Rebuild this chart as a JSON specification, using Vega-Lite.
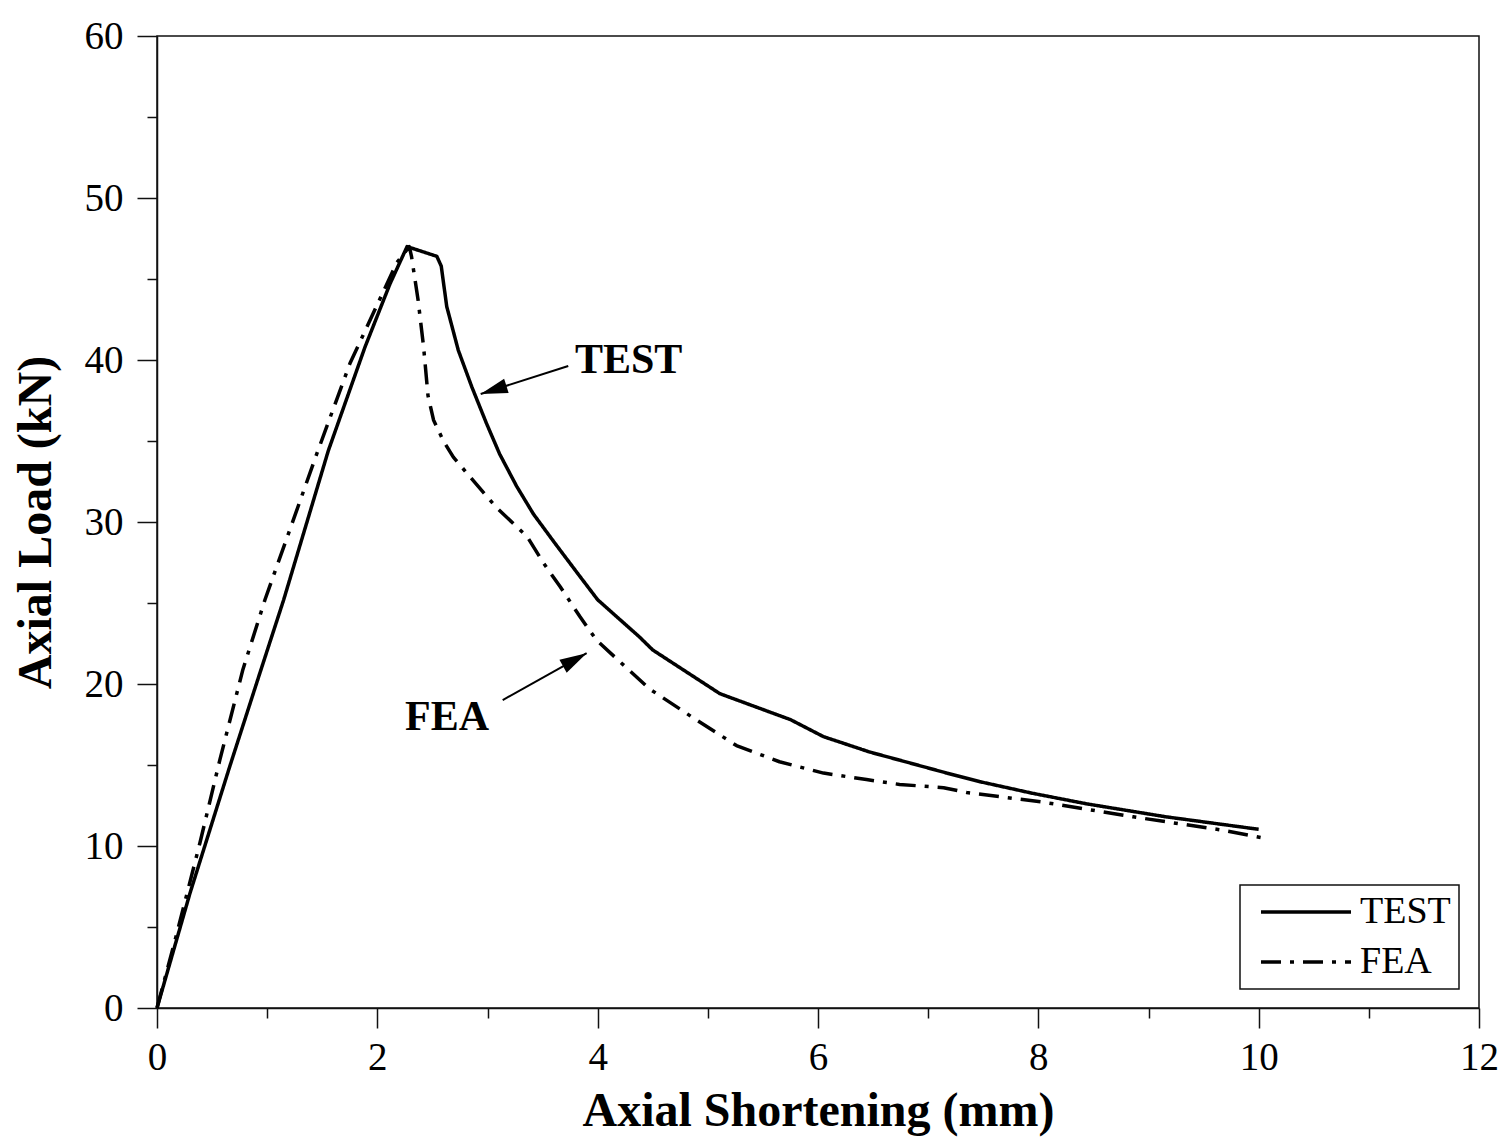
{
  "$schema": "https://vega.github.io/schema/vega-lite/v6.json",
  "width": 1322,
  "height": 972,
  "autosize": {"type": "none"},
  "padding": {"left": 157, "top": 36, "right": 26, "bottom": 137},
  "background": "white",
  "config": {
    "view": {"stroke": "#111", "strokeWidth": 1.5},
    "font": "Liberation Serif",
    "axis": {
      "domainColor": "#111", "domainWidth": 1.5,
      "tickColor": "#111", "tickWidth": 1.5,
      "grid": false,
      "labelFont": "Liberation Serif", "labelFontSize": 39, "labelColor": "black",
      "labelOverlap": false, "labelFlush": false, "labelBound": false,
      "titleFont": "Liberation Serif", "titleFontSize": 48, "titleFontWeight": "bold", "titleColor": "black"
    },
    "legend": {
      "strokeColor": "#111", "strokeWidth": 1.5, "padding": 8, "fillColor": "white",
      "symbolType": "M-0.4,0H5.6", "symbolSize": 900, "symbolStrokeWidth": 3.5, "symbolStrokeColor": "black",
      "labelFont": "Liberation Serif", "labelFontSize": 38, "labelColor": "black", "labelOffset": 74, "rowPadding": 12
    }
  },
  "datasets": {
    "curves": [
      {"series": "TEST", "x": 0, "y": 0},
      {"series": "TEST", "x": 0.30, "y": 7.1},
      {"series": "TEST", "x": 0.66, "y": 14.9},
      {"series": "TEST", "x": 0.935, "y": 20.7},
      {"series": "TEST", "x": 1.15, "y": 25.2},
      {"series": "TEST", "x": 1.555, "y": 34.4},
      {"series": "TEST", "x": 1.888, "y": 40.8},
      {"series": "TEST", "x": 2.115, "y": 44.7},
      {"series": "TEST", "x": 2.27, "y": 47.0},
      {"series": "TEST", "x": 2.54, "y": 46.4},
      {"series": "TEST", "x": 2.58, "y": 45.8},
      {"series": "TEST", "x": 2.63, "y": 43.3},
      {"series": "TEST", "x": 2.735, "y": 40.6},
      {"series": "TEST", "x": 2.857, "y": 38.35},
      {"series": "TEST", "x": 2.99, "y": 36.1},
      {"series": "TEST", "x": 3.11, "y": 34.2},
      {"series": "TEST", "x": 3.265, "y": 32.2},
      {"series": "TEST", "x": 3.416, "y": 30.5},
      {"series": "TEST", "x": 3.60, "y": 28.8},
      {"series": "TEST", "x": 3.81, "y": 26.9},
      {"series": "TEST", "x": 4.0, "y": 25.2},
      {"series": "TEST", "x": 4.38, "y": 22.9},
      {"series": "TEST", "x": 4.50, "y": 22.1},
      {"series": "TEST", "x": 5.11, "y": 19.4},
      {"series": "TEST", "x": 5.75, "y": 17.8},
      {"series": "TEST", "x": 6.05, "y": 16.75},
      {"series": "TEST", "x": 6.47, "y": 15.8},
      {"series": "TEST", "x": 6.74, "y": 15.3},
      {"series": "TEST", "x": 7.17, "y": 14.5},
      {"series": "TEST", "x": 7.47, "y": 13.97},
      {"series": "TEST", "x": 7.95, "y": 13.25},
      {"series": "TEST", "x": 8.44, "y": 12.6},
      {"series": "TEST", "x": 9.16, "y": 11.8},
      {"series": "TEST", "x": 10.0, "y": 11.03},
      {"series": "FEA", "x": 0, "y": 0},
      {"series": "FEA", "x": 0.18, "y": 4.6},
      {"series": "FEA", "x": 0.39, "y": 10.2},
      {"series": "FEA", "x": 0.57, "y": 15.3},
      {"series": "FEA", "x": 0.78, "y": 20.9},
      {"series": "FEA", "x": 0.98, "y": 25.2},
      {"series": "FEA", "x": 1.45, "y": 34.2},
      {"series": "FEA", "x": 1.752, "y": 39.8},
      {"series": "FEA", "x": 2.176, "y": 46.0},
      {"series": "FEA", "x": 2.29, "y": 47.0},
      {"series": "FEA", "x": 2.31, "y": 46.4},
      {"series": "FEA", "x": 2.37, "y": 43.7},
      {"series": "FEA", "x": 2.42, "y": 40.8},
      {"series": "FEA", "x": 2.46, "y": 37.8},
      {"series": "FEA", "x": 2.51, "y": 36.3},
      {"series": "FEA", "x": 2.60, "y": 35.0},
      {"series": "FEA", "x": 2.69, "y": 34.0},
      {"series": "FEA", "x": 2.84, "y": 32.8},
      {"series": "FEA", "x": 3.08, "y": 30.9},
      {"series": "FEA", "x": 3.36, "y": 29.1},
      {"series": "FEA", "x": 3.51, "y": 27.45},
      {"series": "FEA", "x": 3.66, "y": 26.0},
      {"series": "FEA", "x": 3.84, "y": 24.15},
      {"series": "FEA", "x": 3.99, "y": 22.7},
      {"series": "FEA", "x": 4.47, "y": 19.7},
      {"series": "FEA", "x": 4.87, "y": 17.9},
      {"series": "FEA", "x": 5.26, "y": 16.2},
      {"series": "FEA", "x": 5.65, "y": 15.2},
      {"series": "FEA", "x": 6.05, "y": 14.5},
      {"series": "FEA", "x": 6.44, "y": 14.1},
      {"series": "FEA", "x": 6.74, "y": 13.8},
      {"series": "FEA", "x": 7.14, "y": 13.6},
      {"series": "FEA", "x": 7.35, "y": 13.3},
      {"series": "FEA", "x": 8.05, "y": 12.7},
      {"series": "FEA", "x": 8.86, "y": 11.8},
      {"series": "FEA", "x": 9.65, "y": 11.0},
      {"series": "FEA", "x": 10.04, "y": 10.5}
    ],
    "notes": [
      {"text": "TEST", "x": 3.794, "y": 39.2},
      {"text": "FEA", "x": 2.251, "y": 17.16}
    ],
    "shafts": [
      {"name": "TEST", "x": 3.733, "y": 39.63, "x2": 2.938, "y2": 37.9},
      {"name": "FEA", "x": 3.138, "y": 19.01, "x2": 3.90, "y2": 21.9}
    ],
    "heads": [
      {"name": "TEST", "x": 2.938, "y": 37.9},
      {"name": "FEA", "x": 3.90, "y": 21.9}
    ]
  },
  "encoding": {
    "x": {
      "field": "x", "type": "quantitative",
      "scale": {"domain": [0, 12], "nice": false},
      "axis": {
        "title": "Axial Shortening (mm)",
        "values": [0, 1, 2, 3, 4, 5, 6, 7, 8, 9, 10, 11, 12],
        "labelExpr": "datum.value % 2 === 0 ? datum.label : ''",
        "tickSize": {"condition": {"test": "datum.value % 2 !== 0", "value": 10}, "value": 20},
        "labelPadding": 10,
        "titlePadding": 10
      }
    },
    "y": {
      "field": "y", "type": "quantitative",
      "scale": {"domain": [0, 60], "nice": false},
      "axis": {
        "title": "Axial Load (kN)",
        "values": [0, 5, 10, 15, 20, 25, 30, 35, 40, 45, 50, 55, 60],
        "labelExpr": "datum.value % 10 === 0 ? datum.label : ''",
        "tickSize": {"condition": {"test": "datum.value % 10 !== 0", "value": 10}, "value": 20},
        "labelPadding": 14,
        "titlePadding": 24
      }
    }
  },
  "layer": [
    {
      "data": {"name": "curves"},
      "mark": {"type": "line", "color": "black", "strokeWidth": 3.5, "strokeJoin": "round"},
      "encoding": {
        "strokeDash": {
          "field": "series", "type": "nominal",
          "scale": {"domain": ["TEST", "FEA"], "range": [[1, 0], [20, 9, 4, 9]]},
          "legend": {"title": null, "orient": "none", "legendX": 1083, "legendY": 849, "labelExpr": "datum.label + '\u00a0'"}
        }
      }
    },
    {
      "data": {"name": "shafts"},
      "mark": {"type": "rule", "color": "black", "strokeWidth": 2},
      "encoding": {
        "x2": {"field": "x2"},
        "y2": {"field": "y2"}
      }
    },
    {
      "data": {"name": "heads"},
      "transform": [{"filter": "datum.name === 'TEST'"}],
      "mark": {"type": "point", "shape": "M0,0L0.55,2L-0.55,2Z", "filled": true, "color": "black", "opacity": 1, "size": 729, "angle": 252.3, "strokeWidth": 0}
    },
    {
      "data": {"name": "heads"},
      "transform": [{"filter": "datum.name === 'FEA'"}],
      "mark": {"type": "point", "shape": "M0,0L0.55,2L-0.55,2Z", "filled": true, "color": "black", "opacity": 1, "size": 729, "angle": 60.9, "strokeWidth": 0}
    },
    {
      "data": {"name": "notes"},
      "mark": {"type": "text", "font": "Liberation Serif", "fontSize": 42, "fontWeight": "bold", "align": "left", "baseline": "alphabetic", "color": "black"},
      "encoding": {"text": {"field": "text", "type": "nominal"}}
    }
  ]
}
